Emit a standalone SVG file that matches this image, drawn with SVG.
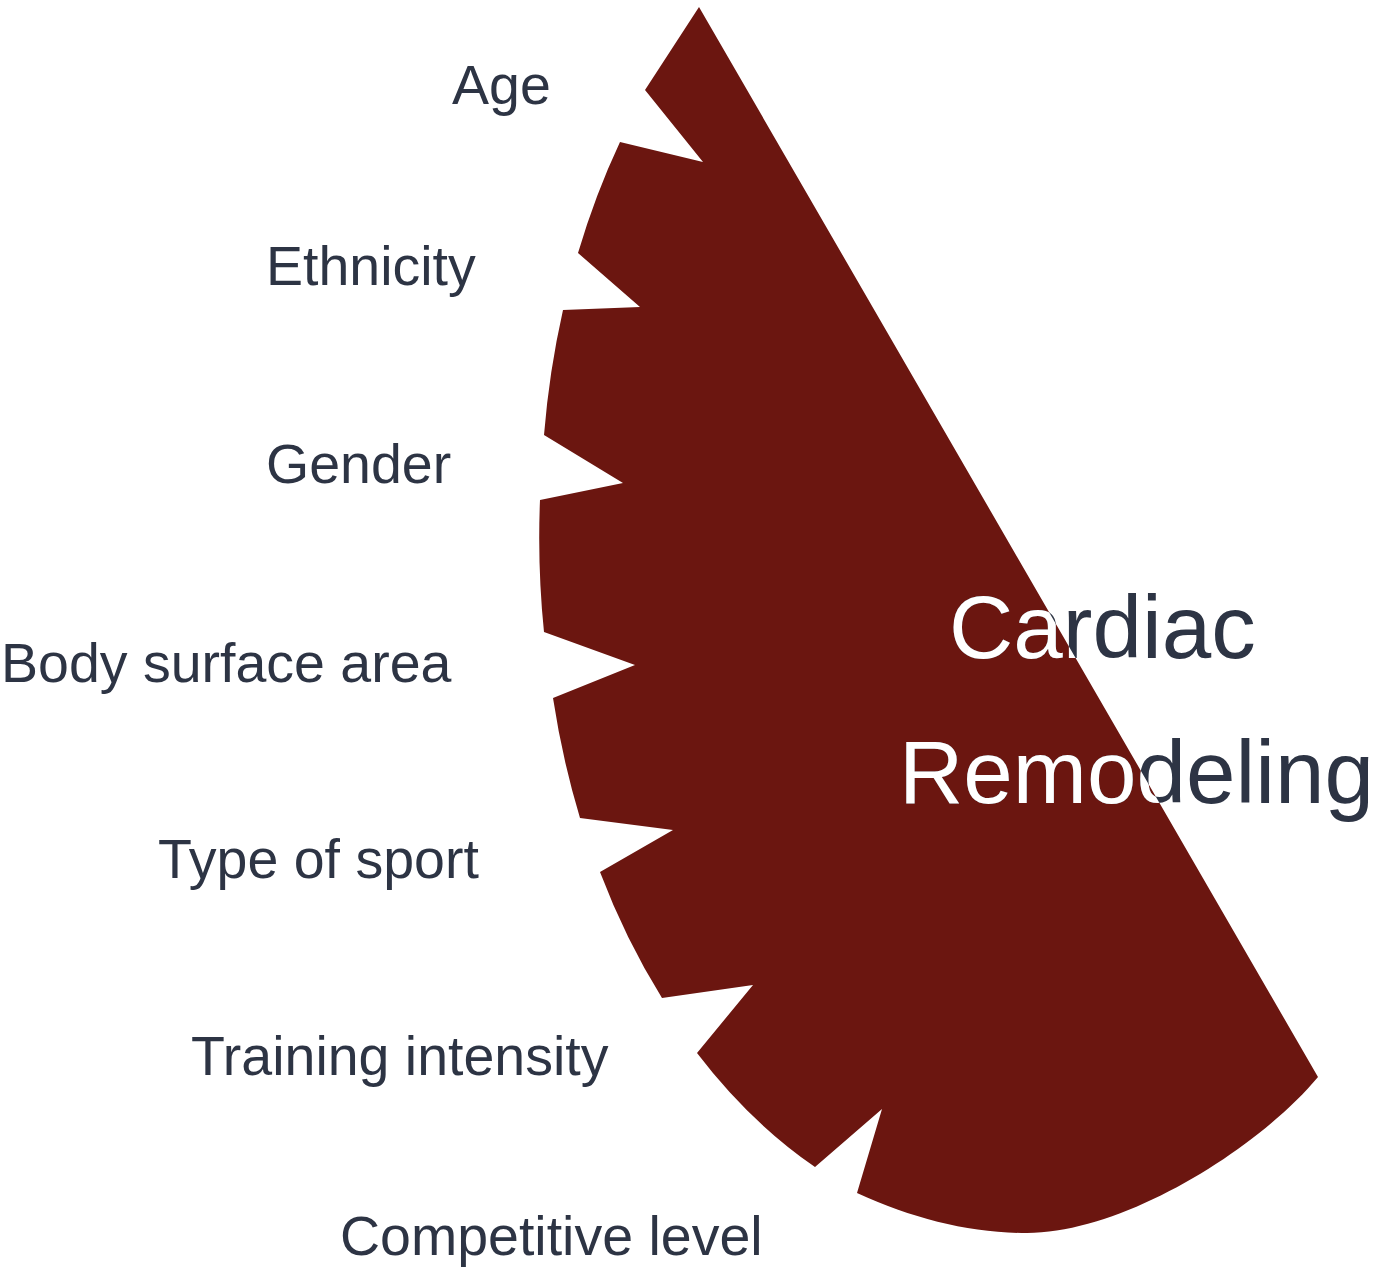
<svg xmlns="http://www.w3.org/2000/svg" width="1379" height="1283" viewBox="0 0 1379 1283">
  <style>
    .lbl { font-family: "Liberation Sans", Arial, sans-serif; font-size: 55.5px; fill: #2D3444; }
    .title { font-family: "Liberation Sans", Arial, sans-serif; font-size: 89px; }
    .dark { fill: #2D3444; }
    .light { fill: #FFFFFF; }
  </style>
  <defs>
    <path id="shapePath" d="M 699,7 L 645,90 L 703,162 L 620,142 A 487 672 0 0 0 578,253 L 640,307 L 563,310 A 487 672 0 0 0 544,435 L 623,483 L 540,500 A 487 672 0 0 0 544,632 L 635,665 L 553,698 A 487 672 0 0 0 580,818 L 673,830 L 600,872 A 487 672 0 0 0 662,998 L 753,985 L 697,1053 A 487 672 0 0 0 815,1167 L 882,1109 L 857,1193 C 914,1219 970,1233 1027,1233 C 1124,1233 1258,1149 1318,1077 Z"/>
    <clipPath id="shapeClip">
      <use href="#shapePath"/>
    </clipPath>
  </defs>
  <rect width="1379" height="1283" fill="#FFFFFF"/>
  <g id="sector">
    <use href="#shapePath" fill="#6B1610"/>
  </g>
  <g id="label-age"><text class="lbl" x="452" y="104">Age</text></g>
  <g id="label-ethnicity"><text class="lbl" x="266" y="285">Ethnicity</text></g>
  <g id="label-gender"><text class="lbl" x="266" y="483">Gender</text></g>
  <g id="label-bsa"><text class="lbl" x="1" y="682">Body surface area</text></g>
  <g id="label-sport"><text class="lbl" x="158" y="878">Type of sport</text></g>
  <g id="label-training"><text class="lbl" x="191" y="1075">Training intensity</text></g>
  <g id="label-competitive"><text class="lbl" x="340" y="1255">Competitive level</text></g>
  <g id="title">
    <g class="dark">
      <text class="title" x="949" y="658">Cardiac</text>
      <text class="title" x="899" y="803">Remodeling</text>
    </g>
    <g class="light" clip-path="url(#shapeClip)">
      <text class="title" x="949" y="658">Cardiac</text>
      <text class="title" x="899" y="803">Remodeling</text>
    </g>
  </g>
</svg>
